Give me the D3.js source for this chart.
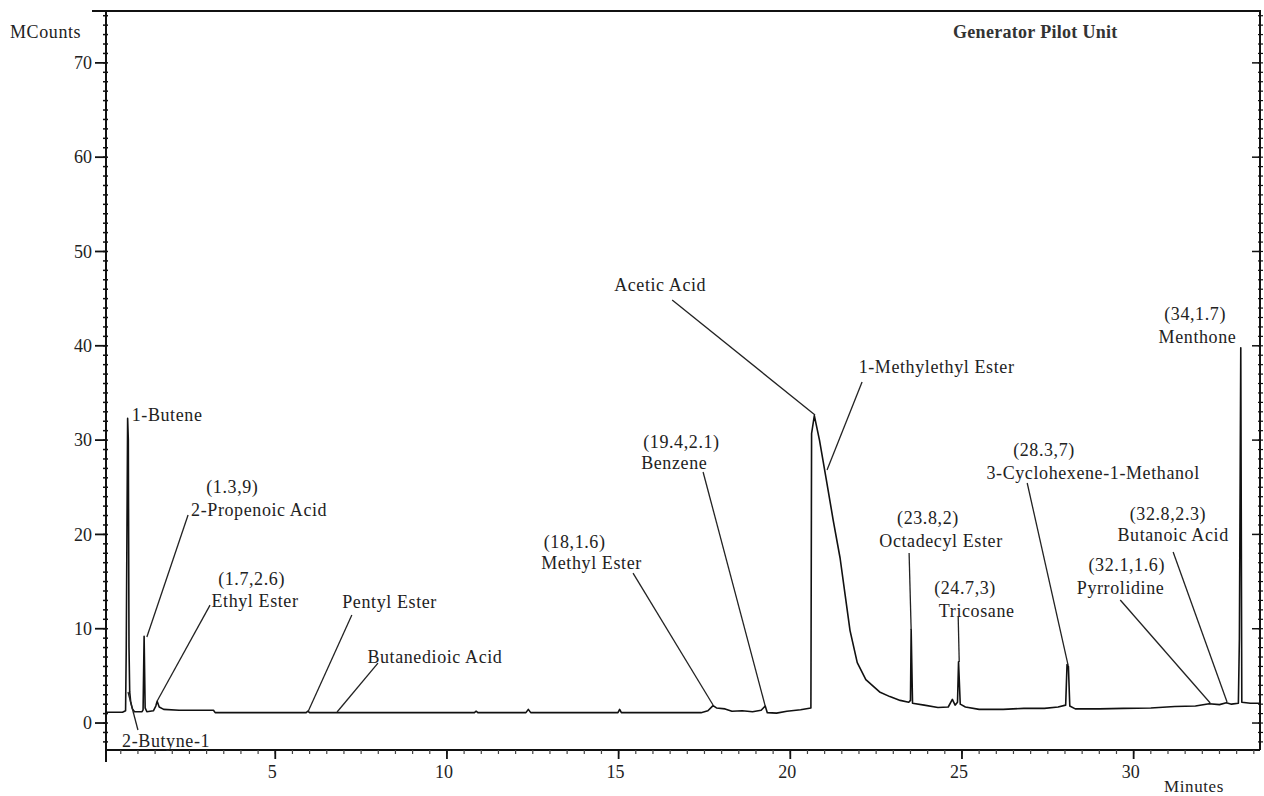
<!DOCTYPE html>
<html>
<head>
<meta charset="utf-8">
<script src="https://cdn.jsdelivr.net/npm/d3@7"></script>
<style>
  html, body { margin: 0; padding: 0; background: #fff; }
  svg { display: block; }
  text { font-family: "Liberation Serif", "Times New Roman", serif; fill: #222; }
</style>
</head>
<body>
<svg id="chart" width="1264" height="796"></svg>
<script>
// ---- Data ----
const traceTimes = [0.07,0.55,0.64,0.66,0.70,0.72,0.74,0.76,0.79,0.84,0.90,1.12,1.15,1.18,1.21,1.26,1.45,1.52,1.56,1.62,1.75,2.2,3.2,3.25,5.9,5.95,6.0,10.8,10.85,10.9,12.3,12.37,12.44,14.98,15.03,15.08,17.4,17.6,17.75,17.85,18.1,18.3,18.6,18.9,19.15,19.27,19.33,19.6,19.9,20.3,20.6,20.62,20.70,20.85,21.04,21.25,21.45,21.6,21.74,21.95,22.2,22.6,22.9,23.2,23.45,23.5,23.52,23.56,23.9,24.3,24.6,24.72,24.8,24.87,24.9,24.95,25.1,25.5,26.2,26.8,27.4,27.8,28.02,28.06,28.1,28.14,28.3,29.0,29.7,30.5,31.2,31.8,32.2,32.5,32.7,32.85,33.05,33.08,33.12,33.15,33.4,33.68];
const traceCounts = [1.15,1.15,1.3,8.0,32.3,30,8,3.3,2.2,1.5,1.2,1.2,1.4,9.2,1.6,1.2,1.3,1.8,2.3,1.7,1.45,1.35,1.35,1.1,1.1,1.25,1.1,1.1,1.25,1.1,1.1,1.45,1.1,1.1,1.45,1.1,1.1,1.3,1.85,1.6,1.5,1.25,1.3,1.2,1.35,1.8,1.1,1.05,1.25,1.4,1.6,30.7,32.6,30,26,21.5,17.5,13.5,9.8,6.4,4.6,3.3,2.8,2.4,2.2,2.4,9.9,2.1,1.9,1.65,1.7,2.5,1.9,2.2,6.5,2.0,1.7,1.45,1.45,1.55,1.55,1.7,1.9,6.2,6.0,1.8,1.5,1.5,1.55,1.6,1.75,1.8,2.05,1.95,2.15,2.0,2.1,9,39.8,2.2,2.1,2.1];

const xTickValues = [5,10,15,20,25,30];
const yTickValues = [0,10,20,30,40,50,60,70];
const xDomain = [0.07, 33.68];
const yDomain = [-2.86, 75.5];

const labelTexts = ["1-Butene","(1.3,9)","2-Propenoic Acid","(1.7,2.6)","Ethyl Ester","Pentyl Ester","Butanedioic Acid","(18,1.6)","Methyl Ester","(19.4,2.1)","Benzene","Acetic Acid","1-Methylethyl Ester","(23.8,2)","Octadecyl Ester","(24.7,3)","Tricosane","(28.3,7)","3-Cyclohexene-1-Methanol","(32.1,1.6)","Pyrrolidine","(32.8,2.3)","Butanoic Acid","(34,1.7)","Menthone","2-Butyne-1"];
// label anchor (centre, baseline) in data units
const labelTimes  = [1.85,3.75,4.53,4.31,4.41,8.33,9.65,13.72,14.21,16.83,16.62,16.21,24.26,24.01,24.39,25.09,25.43,27.39,28.82,29.80,29.62,31.00,31.15,31.79,31.86,1.82];
const labelCounts = [32.0,24.4,21.95,14.6,12.3,12.2,6.36,18.55,16.3,29.15,26.9,45.8,37.1,21.1,18.7,13.7,11.2,28.3,25.9,16.1,13.7,21.55,19.3,42.7,40.3,-2.55];

// leader lines: from label end to peak (data units)
const leaderFromT = [16.56,22.09,17.46,15.42,2.46,3.10,7.23,7.99,1.00,23.46,24.89,26.90,29.61,31.15];
const leaderFromV = [44.86,36.16,26.62,15.9,22.06,12.5,11.45,6.36,-0.74,18.03,11.24,25.45,13.04,18.13];
const leaderToT   = [20.72,21.07,19.27,17.75,1.26,1.56,5.95,6.80,0.71,23.52,24.92,28.09,32.23,32.72];
const leaderToV   = [32.66,26.83,1.80,1.91,9.12,2.33,1.17,1.17,3.29,9.86,6.47,6.15,2.12,2.23];

// ---- Layout ----
const svg = d3.select("#chart");
const x = d3.scaleLinear().domain(xDomain).range([106, 1260]);
const y = d3.scaleLinear().domain(yDomain).range([750, 11]);

const ink = "#111";

// frame: top border
svg.append("line").attr("x1", 92).attr("x2", 1261).attr("y1", y(yDomain[1])).attr("y2", y(yDomain[1]))
  .attr("stroke", ink).attr("stroke-width", 2);

// left axis
const yMinor = d3.range(-2, 76, 1);
const gLeft = svg.append("g").attr("transform", `translate(${x(xDomain[0])},0)`);
gLeft.append("line").attr("y1", y(yDomain[1])).attr("y2", y(yDomain[0]) + 12).attr("stroke", ink).attr("stroke-width", 2);
gLeft.selectAll("line.minor").data(yMinor).join("line").attr("class","minor")
  .attr("x1", -3).attr("x2", 2).attr("y1", d => y(d)).attr("y2", d => y(d)).attr("stroke", ink).attr("stroke-width", 1.5);
gLeft.selectAll("line.major").data(yTickValues).join("line").attr("class","major")
  .attr("x1", -11).attr("x2", 0).attr("y1", d => y(d)).attr("y2", d => y(d)).attr("stroke", ink).attr("stroke-width", 1.8);
gLeft.selectAll("text").data(yTickValues).join("text")
  .attr("x", -14).attr("y", d => y(d)).attr("dy", "0.35em").attr("text-anchor", "end")
  .style("font-size", "18px").text(d => d3.format("d")(d));

// right axis
const gRight = svg.append("g").attr("transform", `translate(${x(xDomain[1])},0)`);
gRight.append("line").attr("y1", y(yDomain[1])).attr("y2", y(yDomain[0])).attr("stroke", ink).attr("stroke-width", 2);
gRight.selectAll("line.minor").data(yMinor).join("line").attr("class","minor")
  .attr("x1", -2).attr("x2", 3).attr("y1", d => y(d)).attr("y2", d => y(d)).attr("stroke", ink).attr("stroke-width", 1.2);
gRight.selectAll("line.major").data(yTickValues).join("line").attr("class","major")
  .attr("x1", -8).attr("x2", 0).attr("y1", d => y(d)).attr("y2", d => y(d)).attr("stroke", ink).attr("stroke-width", 1.5);

// bottom axis
const xMinor = d3.range(0.5, 33.6, 0.5);
const gBottom = svg.append("g").attr("transform", `translate(0,${y(yDomain[0])})`);
gBottom.append("line").attr("x1", x(xDomain[0])).attr("x2", x(xDomain[1])).attr("stroke", ink).attr("stroke-width", 2);
gBottom.selectAll("line.minor").data(xMinor).join("line").attr("class","minor")
  .attr("x1", d => x(d)).attr("x2", d => x(d)).attr("y1", 0).attr("y2", 4).attr("stroke", "#444").attr("stroke-width", 1.2);
gBottom.selectAll("line.major").data(xTickValues).join("line").attr("class","major")
  .attr("x1", d => x(d)).attr("x2", d => x(d)).attr("y1", 0).attr("y2", 9).attr("stroke", ink).attr("stroke-width", 1.8);
gBottom.selectAll("text").data(xTickValues).join("text")
  .attr("x", d => x(d) - 3).attr("y", 22).attr("dy", "0.35em").attr("text-anchor", "middle")
  .style("font-size", "18px").text(d => d);

// axis titles
svg.append("text").attr("x", 10).attr("y", 38).style("font-size", "18px").style("letter-spacing", "0.6px").text("MCounts");
svg.append("text").attr("x", 1164).attr("y", 792).style("font-size", "17px").style("letter-spacing", "0.6px").text("Minutes");
svg.append("text").attr("x", 953).attr("y", 38).style("font-size", "18px").style("font-weight", "bold")
  .style("letter-spacing", "0.3px").style("fill", "#333").text("Generator Pilot Unit");

// trace
const pts = traceTimes.map((t, i) => [t, traceCounts[i]]);
const line = d3.line().x(d => x(d[0])).y(d => y(d[1]));
svg.append("path").datum(pts).attr("d", line).attr("fill", "none")
  .attr("stroke", ink).attr("stroke-width", 1.6).attr("stroke-linejoin", "round");

// leader lines
svg.selectAll("line.leader").data(leaderFromT).join("line").attr("class", "leader")
  .attr("x1", (d, i) => x(leaderFromT[i])).attr("y1", (d, i) => y(leaderFromV[i]))
  .attr("x2", (d, i) => x(leaderToT[i])).attr("y2", (d, i) => y(leaderToV[i]))
  .attr("stroke", "#222").attr("stroke-width", 1.3);

// peak labels
svg.selectAll("text.peak").data(labelTexts).join("text").attr("class", "peak")
  .attr("x", (d, i) => x(labelTimes[i])).attr("y", (d, i) => y(labelCounts[i]))
  .attr("text-anchor", "middle").style("font-size", "18px").style("letter-spacing", "0.6px").text(d => d);
</script>
</body>
</html>
